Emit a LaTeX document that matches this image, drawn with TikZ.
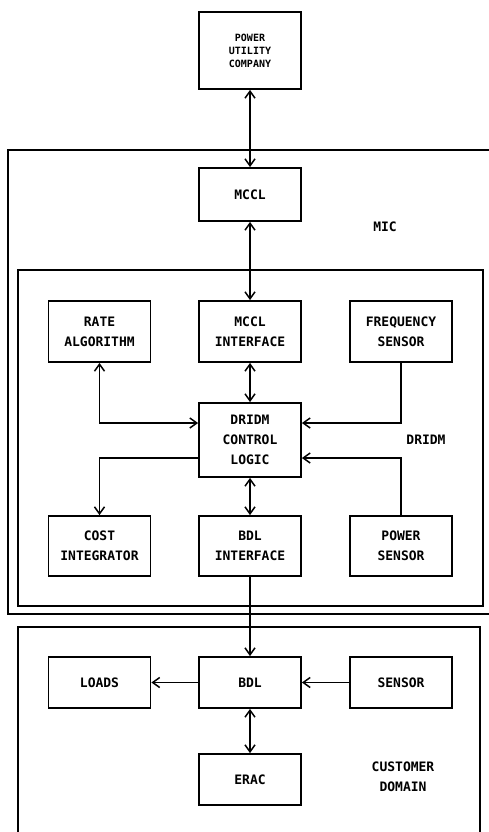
\documentclass[tikz,border=0pt]{standalone}
\usepackage{fontspec}
\setmonofont{DejaVu Sans Mono}
\usetikzlibrary{arrows.meta}

\begin{document}
\begin{tikzpicture}[
        x                       = 1pt,
        y                       = -1pt,
        >                       = {Straight Barb[length=7pt,width=10pt,line width=1.5pt]},
        block/.style            = {draw, line width=1.8pt, minimum width=102pt, align=center,
                                   font=\ttfamily\bfseries\fontsize{13}{20}\selectfont},
        area/.style             = {draw, line width=1.8pt},
        tag/.style              = {align=center, font=\ttfamily\bfseries\fontsize{13}{20}\selectfont},
        link/.style             = {draw, line width=1.6pt},
        %sloped
      ]
        \useasboundingbox (0,0) rectangle (488,832);

        % containers
        \draw[area] (500,150) -- (8,150) -- (8,614) -- (500,614);
        \draw[area] (18,270) rectangle (483,606);
        \draw[area] (18,833) -- (18,627) -- (480,627) -- (480,833);
        \node[tag] (mic) at (385,227) {MIC};
        \node[tag] (dridm) at (426,440) {DRIDM};
        \node[tag] (domain) at (403,777) {CUSTOMER\\DOMAIN};

        % top
        \node[block, minimum height=77pt, font=\ttfamily\bfseries\fontsize{10}{13}\selectfont]
            (puc) at (250,50.5) {POWER\\UTILITY\\COMPANY};
        \node[block, minimum height=53pt] (mccl) at (250,194.5) {MCCL};

        % DRIDM
        \node[block, minimum height=61pt] (rate)   at (99.5,331.5) {RATE\\ALGORITHM};
        \node[block, minimum height=61pt] (mcclif) at (250,331.5)  {MCCL\\INTERFACE};
        \node[block, minimum height=61pt] (freq)   at (401,331.5)  {FREQUENCY\\SENSOR};
        \node[block, minimum height=74pt] (ctrl)   at (250,440)    {DRIDM\\CONTROL\\LOGIC};
        \node[block, minimum height=60pt] (cost)   at (99.5,546)   {COST\\INTEGRATOR};
        \node[block, minimum height=60pt] (bdlif)  at (250,546)    {BDL\\INTERFACE};
        \node[block, minimum height=60pt] (pwr)    at (401,546)    {POWER\\SENSOR};

        % customer domain
        \node[block, minimum height=51pt] (loads)  at (99.5,682.5) {LOADS};
        \node[block, minimum height=51pt] (bdl)    at (250,682.5)  {BDL};
        \node[block, minimum height=51pt] (sensor) at (401,682.5)  {SENSOR};
        \node[block, minimum height=51pt] (erac)   at (250,779.5)  {ERAC};

        % connectors
        \draw[link, <->] (puc) -- (mccl);
        \draw[link, <->] (mccl) -- (mcclif);
        \draw[link, <->] (mcclif) -- (ctrl);
        \draw[link, <->] (rate) |- ([yshift=17pt]ctrl.west);
        \draw[link, ->]  (freq) |- ([yshift=17pt]ctrl.east);
        \draw[link, ->]  ([yshift=-18pt]ctrl.west) -| (cost);
        \draw[link, ->]  (pwr) |- ([yshift=-18pt]ctrl.east);
        \draw[link, <->] (ctrl) -- (bdlif);
        \draw[link, ->]  (bdlif) -- (bdl);
        \draw[link, ->]  (bdl) -- (loads);
        \draw[link, ->]  (sensor) -- (bdl);
        \draw[link, <->] (bdl) -- (erac);
\end{tikzpicture}
\end{document}
